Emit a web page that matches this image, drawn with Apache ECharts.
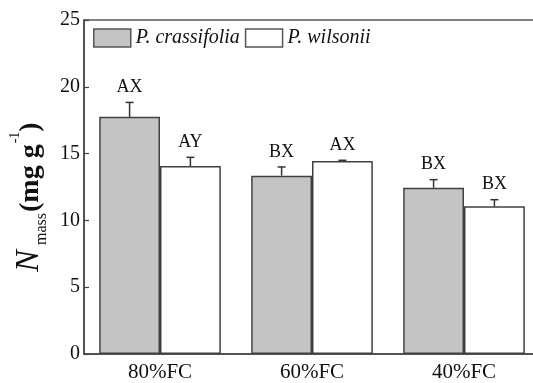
<!DOCTYPE html>
<html>
<head>
<meta charset="utf-8">
<script src="https://cdn.jsdelivr.net/npm/echarts@6/dist/echarts.min.js"></script>
<style>
html,body{margin:0;padding:0;background:#fff;}
#chart{width:533px;height:383px;}
</style>
</head>
<body>
<div id="chart"></div>
<script>
// ---- data ----
const categories = ['80%FC', '60%FC', '40%FC'];
const seriesNames = ['P. crassifolia', 'P. wilsonii'];
const crassifoliaValues = [17.75, 13.35, 12.45];
const crassifoliaErrors = [1.08, 0.65, 0.6];
const crassifoliaLetters = ['AX', 'BX', 'BX'];
const wilsoniiValues = [14.07, 14.45, 11.05];
const wilsoniiErrors = [0.65, 0.05, 0.5];
const wilsoniiLetters = ['AY', 'AX', 'BX'];
const yTicks = [0, 5, 10, 15, 20, 25];

const FONT = '"Liberation Serif", "Times New Roman", serif';
const chart = echarts.init(document.getElementById('chart'), null, {renderer: 'canvas'});

function errData(vals, errs, side) {
  return vals.map((v, i) => [i, v, errs[i], side]);
}

function makeRender(letters) {
  return function (params, api) {
    const idx = api.value(0);
    const v = api.value(1);
    const e = api.value(2);
    const side = api.value(3);
    const letter = letters[params.dataIndex];
    const c = api.coord([idx, v]);
    const bw = api.size([1, 0])[0] * 0.8 / 2;
    const cx = c[0] + (side === 0 ? -bw / 2 : bw / 2);
    const yBar = c[1];
    const yTop = api.coord([idx, v + e])[1];
    const cap = 4;
    return {
      type: 'group',
      children: [
        {type: 'line', shape: {x1: cx, y1: yBar, x2: cx, y2: yTop}, style: {stroke: '#333', lineWidth: 1.5}},
        {type: 'line', shape: {x1: cx - cap, y1: yTop, x2: cx + cap, y2: yTop}, style: {stroke: '#333', lineWidth: 1.5}},
        {type: 'text', style: {text: letter, x: cx, y: yTop - 6, align: 'center', verticalAlign: 'bottom',
          font: '18px ' + FONT, fill: '#111'}}
      ]
    };
  };
}

// measure text for y-axis title
const mctx = document.createElement('canvas').getContext('2d');
function tw(text, font) { mctx.font = font; return mctx.measureText(text).width; }

const fN = 'italic 33px ' + FONT;
const fSub = '16px ' + FONT;
const fMain = 'bold 28px ' + FONT;
const fSup = '14px ' + FONT;
const parts = [
  {t: 'N', f: fN, size: 33, base: 0, gapAfter: 5},
  {t: 'mass', f: fSub, size: 16, base: 7, gapAfter: 1},
  {t: '(mg g', f: fMain, size: 28, base: 0, gapAfter: 1},
  {t: '-1', f: fSup, size: 14, base: -20, gapAfter: 0},
  {t: ')', f: fMain, size: 28, base: 0, gapAfter: 0}
];
let px = 0;
const titleChildren = [];
parts.forEach(p => {
  titleChildren.push({
    type: 'text', x: px, y: p.base - 0.33 * p.size,
    style: {text: p.t, font: p.f, fill: '#111', align: 'left', verticalAlign: 'middle'}
  });
  px += tw(p.t, p.f) + p.gapAfter;
});

const option = {
  backgroundColor: '#fff',
  animation: false,
  grid: {left: 84, top: 20, width: 456, height: 334, show: true, borderColor: '#555', borderWidth: 1.5,
    backgroundColor: 'transparent', outerBoundsMode: 'none', containLabel: false},
  legend: {
    data: seriesNames,
    left: 93, top: 28, padding: 0,
    itemWidth: 37, itemHeight: 18, itemGap: 5,
    icon: 'rect',
    itemStyle: {borderColor: '#555', borderWidth: 1.5},
    textStyle: {fontFamily: FONT, fontStyle: 'italic', fontSize: 20, color: '#111'}
  },
  xAxis: {
    type: 'category', data: categories,
    axisLine: {lineStyle: {color: '#444', width: 1.5}},
    axisTick: {show: false},
    axisLabel: {fontFamily: FONT, fontSize: 21, color: '#111', margin: 8}
  },
  yAxis: {
    type: 'value', min: 0, max: 25, interval: 5,
    axisLine: {show: true, lineStyle: {color: '#444', width: 1.5}},
    axisTick: {show: true, inside: true, length: 5, lineStyle: {color: '#444', width: 1.2}},
    splitLine: {show: false},
    axisLabel: {fontFamily: FONT, fontSize: 20, color: '#111', margin: 4,
      formatter: v => (yTicks.indexOf(v) >= 0 ? String(v) : '')}
  },
  graphic: [{
    type: 'group', x: 40, y: 272, rotation: Math.PI / 2,
    children: titleChildren
  }],
  series: [
    {name: seriesNames[0], type: 'bar', data: crassifoliaValues, barGap: '0%', barCategoryGap: '20%',
      itemStyle: {color: '#c4c4c4', borderColor: '#404040', borderWidth: 1.5}},
    {name: seriesNames[1], type: 'bar', data: wilsoniiValues, barGap: '0%', barCategoryGap: '20%',
      itemStyle: {color: '#ffffff', borderColor: '#404040', borderWidth: 1.5}},
    {name: 'errA', type: 'custom', data: errData(crassifoliaValues, crassifoliaErrors, 0),
      renderItem: makeRender(crassifoliaLetters), z: 5},
    {name: 'errB', type: 'custom', data: errData(wilsoniiValues, wilsoniiErrors, 1),
      renderItem: makeRender(wilsoniiLetters), z: 5}
  ]
};
chart.setOption(option);
</script>
</body>
</html>
